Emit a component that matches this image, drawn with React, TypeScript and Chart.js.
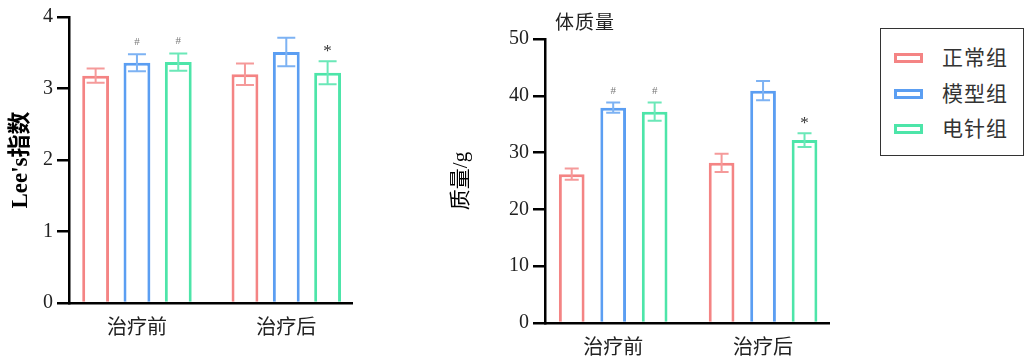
import React, { useEffect, useRef } from 'react';
import { Chart, registerables } from 'chart.js';

Chart.register(...registerables);

// ---------- data ----------
const categories = ['治疗前', '治疗后'];
const groups = ['正常组', '模型组', '电针组'];

const leeNormal = [3.18, 3.2];
const leeModel = [3.36, 3.51];
const leeEA = [3.37, 3.22];
const leeNormalErr = [0.1, 0.15];
const leeModelErr = [0.12, 0.2];
const leeEAErr = [0.12, 0.16];
const leeTicks = [0, 1, 2, 3, 4];

const massNormal = [26.2, 28.2];
const massModel = [37.9, 40.9];
const massEA = [37.2, 32.2];
const massNormalErr = [1.0, 1.6];
const massModelErr = [0.9, 1.7];
const massEAErr = [1.6, 1.2];
const massTicks = [0, 10, 20, 30, 40, 50];

const marksNormal = ['', ''];
const marksModel = ['#', ''];
const marksEA = ['#', '*'];

// ---------- styles ----------
const FONT = '"Liberation Serif", "Noto Sans CJK SC", serif';
const barColors = ['#F48484', '#5B9EF2', '#4DE5A9'];
const errColors = ['#F59A9A', '#7DB2F3', '#6BE8B8'];

const errorBarsPlugin = {
  id: 'errorBars',
  afterDatasetsDraw(chart: any, _args: any, opts: any) {
    const { ctx } = chart;
    const yScale = chart.scales.y;
    chart.data.datasets.forEach((ds: any, di: number) => {
      const meta = chart.getDatasetMeta(di);
      meta.data.forEach((bar: any, i: number) => {
        const v = ds.data[i].y;
        const e = ds.errors[i];
        const x = bar.x;
        const yT = yScale.getPixelForValue(v + e);
        const yB = yScale.getPixelForValue(v - e);
        const cap = opts.cap;
        ctx.save();
        ctx.strokeStyle = ds.errorColor;
        ctx.lineWidth = 2;
        ctx.beginPath();
        ctx.moveTo(x, yT);
        ctx.lineTo(x, yB);
        ctx.moveTo(x - cap / 2, yT);
        ctx.lineTo(x + cap / 2, yT);
        ctx.moveTo(x - cap / 2, yB);
        ctx.lineTo(x + cap / 2, yB);
        ctx.stroke();
        const m = ds.marks[i];
        if (m) {
          ctx.textAlign = 'center';
          ctx.textBaseline = 'middle';
          if (m === '#') {
            ctx.fillStyle = '#777';
            ctx.font = `11px ${FONT}`;
            ctx.fillText(m, x, yT - 12);
          } else {
            ctx.fillStyle = '#333';
            ctx.font = `17px ${FONT}`;
            ctx.fillText(m, x, yT - 10);
          }
        }
        ctx.restore();
      });
    });
  },
};

type Spec = {
  values: number[][];
  errors: number[][];
  ticks: number[];
  title: string;
  titleSize: number;
  titleWeight: string;
  titlePad: number;
  yWidth: number;
  xHeight: number;
  padTop: number;
  padRight: number;
  cap: number;
  barPct: number;
};

function makeConfig(s: Spec): any {
  const marks = [marksNormal, marksModel, marksEA];
  return {
    type: 'bar',
    data: {
      datasets: groups.map((g, gi) => ({
        label: g,
        data: s.values[gi].map((v, i) => ({ x: i, y: v })),
        errors: s.errors[gi],
        marks: marks[gi],
        errorColor: errColors[gi],
        backgroundColor: '#ffffff',
        borderColor: barColors[gi],
        borderWidth: 3,
        borderSkipped: 'start',
        categoryPercentage: 0.83,
        barPercentage: s.barPct,
      })),
    },
    options: {
      animation: false,
      responsive: false,
      maintainAspectRatio: false,
      layout: { padding: { top: s.padTop, right: s.padRight, left: 0, bottom: 0 } },
      plugins: {
        legend: { display: false },
        tooltip: { enabled: false },
        errorBars: { cap: s.cap },
      },
      scales: {
        x: {
          type: 'linear',
          bounds: 'data',
          offset: false,
          min: -0.455,
          max: 1.44,
          z: 1,
          afterBuildTicks: (sc: any) => {
            sc.ticks = categories.map((_, i) => ({ value: i }));
          },
          afterFit: (sc: any) => {
            sc.height = s.xHeight;
          },
          ticks: {
            autoSkip: false,
            maxRotation: 0,
            padding: 14,
            color: '#222',
            font: { family: FONT, size: 20 },
            callback: (v: any) => categories[v] ?? '',
          },
          grid: { display: false, drawTicks: false, offset: false },
          border: { display: true, color: '#000', width: 2.5 },
        },
        y: {
          type: 'linear',
          min: s.ticks[0],
          max: s.ticks[s.ticks.length - 1],
          afterBuildTicks: (sc: any) => {
            sc.ticks = s.ticks.map((v) => ({ value: v }));
          },
          afterFit: (sc: any) => {
            sc.width = s.yWidth;
          },
          ticks: {
            padding: 4,
            color: '#222',
            font: { family: FONT, size: 20 },
          },
          grid: {
            drawOnChartArea: false,
            drawTicks: true,
            tickLength: 12,
            color: '#000',
            lineWidth: 2.5,
          },
          border: { display: true, color: '#000', width: 2.5 },
          title: {
            display: true,
            text: s.title,
            color: '#000',
            padding: { top: s.titlePad, bottom: 0 },
            font: { family: FONT, size: s.titleSize, weight: s.titleWeight },
          },
        },
      },
    },
    plugins: [errorBarsPlugin],
  };
}

function BarChart({ spec, width, height }: { spec: Spec; width: number; height: number }) {
  const ref = useRef<HTMLCanvasElement | null>(null);
  useEffect(() => {
    if (!ref.current) return;
    const chart = new Chart(ref.current, makeConfig(spec));
    return () => chart.destroy();
  }, []);
  return <canvas ref={ref} width={width} height={height} style={{ width, height, display: 'block' }} />;
}

const leeSpec: Spec = {
  values: [leeNormal, leeModel, leeEA],
  errors: [leeNormalErr, leeModelErr, leeEAErr],
  ticks: leeTicks,
  title: "Lee's指数",
  titleSize: 23,
  titleWeight: 'bold',
  titlePad: 7,
  yWidth: 69,
  xHeight: 60,
  padTop: 17,
  padRight: 28,
  cap: 18,
  barPct: 0.65,
};

const massSpec: Spec = {
  values: [massNormal, massModel, massEA],
  errors: [massNormalErr, massModelErr, massEAErr],
  ticks: massTicks,
  title: '质量/g',
  titleSize: 21,
  titleWeight: 'normal',
  titlePad: 9,
  yWidth: 105,
  xHeight: 40,
  padTop: 39,
  padRight: 31,
  cap: 14,
  barPct: 0.62,
};

export default function App() {
  return (
    <div style={{ position: 'fixed', left: 0, top: 0, width: 1024, height: 363, background: '#fff', overflow: 'hidden' }}>
      <div style={{ position: 'absolute', left: 0, top: 0 }}>
        <BarChart spec={leeSpec} width={380} height={363} />
      </div>
      <div style={{ position: 'absolute', left: 440, top: 0 }}>
        <BarChart spec={massSpec} width={420} height={363} />
      </div>
      <div
        style={{
          position: 'absolute',
          left: 555,
          top: 11,
          fontFamily: FONT,
          fontSize: 19,
          lineHeight: '24px',
          color: '#222',
          letterSpacing: 1,
        }}
      >
        体质量
      </div>
      <div
        style={{
          position: 'absolute',
          left: 880,
          top: 28,
          width: 144,
          height: 128,
          boxSizing: 'border-box',
          border: '1px solid #333',
          fontFamily: FONT,
        }}
      >
        {groups.map((g, i) => (
          <div key={g} style={{ position: 'absolute', left: 0, top: 16 + i * 35.5, height: 26, width: 142 }}>
            <div
              style={{
                position: 'absolute',
                left: 13,
                top: 8,
                width: 29,
                height: 10,
                boxSizing: 'border-box',
                border: `3px solid ${barColors[i]}`,
                background: '#fff',
              }}
            />
            <div
              style={{
                position: 'absolute',
                left: 61,
                top: 0,
                fontSize: 21,
                lineHeight: '26px',
                color: '#333',
                letterSpacing: 1,
              }}
            >
              {g}
            </div>
          </div>
        ))}
      </div>
    </div>
  );
}
